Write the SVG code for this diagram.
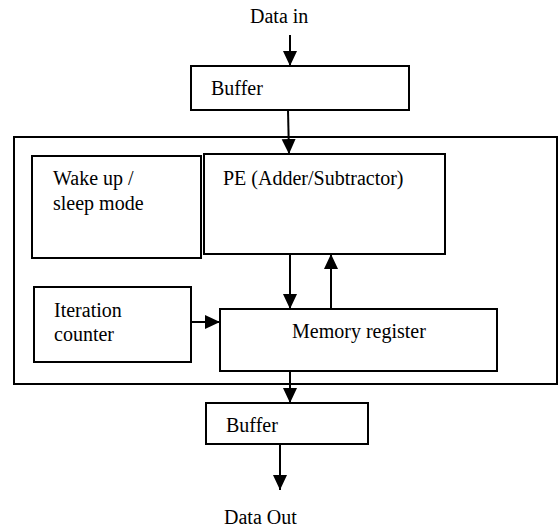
<svg xmlns="http://www.w3.org/2000/svg" width="558" height="531" viewBox="0 0 558 531">
<style>
.box{fill:#fff;stroke:#000;stroke-width:2}
.outer{fill:none;stroke:#000;stroke-width:2}
.t{font-family:"Liberation Serif",Tinos,"Times New Roman",Times,"Noto Serif","DejaVu Serif",serif;font-size:20px;fill:#000}
.c{stroke:#000;stroke-width:2;fill:none;marker-end:url(#ah)}
</style>
<defs>
<marker id="ah" markerUnits="userSpaceOnUse" markerWidth="16" markerHeight="16" viewBox="0 0 16 16" refX="15" refY="8" orient="auto">
<path d="M0,1 L15,8 L0,15 Z" fill="#000"/>
</marker>
</defs>
<rect width="558" height="531" fill="#fff"/>
<g id="system"><rect class="outer" x="14" y="137" width="543" height="247"/></g>
<g id="data-in"><text class="t" x="250" y="23" font-family="Liberation Serif, serif">Data in</text></g>
<g id="buffer-in"><rect class="box" x="191" y="66" width="218" height="44"/><text class="t" x="211" y="95">Buffer</text></g>
<g id="wake"><rect class="box" x="32" y="156" width="169" height="102"/><text class="t" x="53" y="185">Wake up /</text><text class="t" x="53" y="210">sleep mode</text></g>
<g id="pe"><rect class="box" x="204" y="154" width="241" height="100"/><text class="t" x="223" y="185">PE (Adder/Subtractor)</text></g>
<g id="iter"><rect class="box" x="34" y="287" width="157" height="75"/><text class="t" x="54" y="317">Iteration</text><text class="t" x="54" y="341">counter</text></g>
<g id="mem"><rect class="box" x="220" y="309" width="277" height="62"/><text class="t" x="359" y="338" text-anchor="middle">Memory register</text></g>
<g id="buffer-out"><rect class="box" x="206" y="403" width="162" height="41"/><text class="t" x="226" y="432">Buffer</text></g>
<g id="data-out"><text class="t" x="224" y="524">Data Out</text></g>
<g id="connectors">
<line class="c" x1="290" y1="35" x2="290" y2="66"/>
<line class="c" x1="288" y1="110" x2="289" y2="154"/>
<line class="c" x1="290" y1="254" x2="290" y2="309"/>
<line class="c" x1="331" y1="309" x2="331" y2="254"/>
<line class="c" x1="191" y1="322" x2="220" y2="322"/>
<line class="c" x1="290" y1="371" x2="290" y2="403"/>
<line class="c" x1="280" y1="444" x2="280" y2="490"/>
</g>
</svg>
